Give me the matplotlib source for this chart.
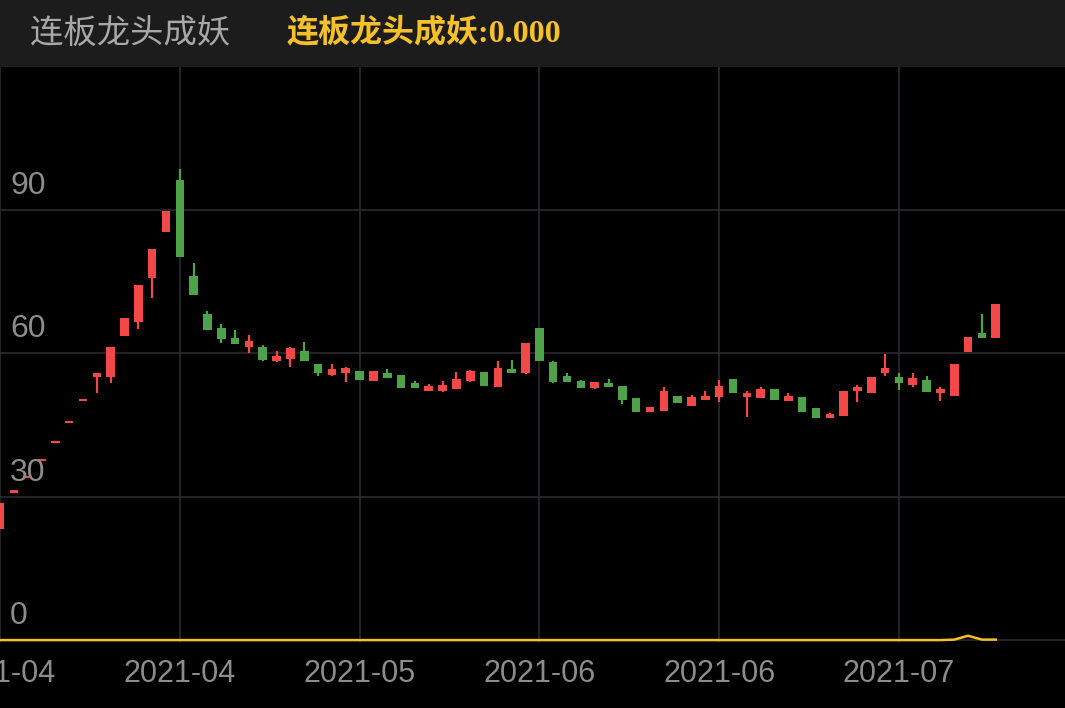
import matplotlib

matplotlib.use("Agg")
import matplotlib.pyplot as plt
import numpy as np

plt.rcParams["font.family"] = ["Noto Sans CJK SC", "DejaVu Sans"]

# OHLC (one entry per trading day)
opens = [23.2, 30.8, 33.9, 37.4, 41.2, 45.4, 50.0, 55.0, 55.0, 63.6,
         66.5, 75.7, 85.3, 96.2, 76.1, 68.2, 65.2, 63.1, 61.3, 61.3,
         58.3, 58.7, 60.4, 57.7, 55.4, 55.8, 56.2, 54.2, 55.9, 55.4,
         53.8, 52.1, 52.1, 52.5, 54.1, 56.0, 53.0, 56.7, 55.8, 65.2,
         58.1, 55.2, 54.1, 52.8, 53.7, 53.1, 50.6, 47.7, 47.9, 51.0,
         48.9, 50.2, 50.8, 54.6, 50.8, 50.6, 52.5, 50.0, 50.8, 48.5,
         46.4, 46.8, 52.1, 51.6, 55.8, 55.0, 53.3, 54.4, 51.6, 51.0,
         60.2, 64.2, 63.1]
closes = [28.6, 31.3, 34.4, 37.9, 41.7, 45.9, 50.5, 55.8, 61.3, 67.3,
          74.2, 81.7, 89.7, 80.1, 72.1, 64.8, 62.9, 61.9, 62.5, 58.5,
          59.4, 61.0, 58.3, 55.8, 56.7, 56.9, 54.4, 56.2, 54.8, 52.7,
          52.8, 53.2, 53.3, 54.5, 56.2, 53.1, 56.9, 55.8, 62.1, 58.3,
          53.9, 53.9, 52.8, 53.9, 53.0, 50.2, 47.7, 48.7, 52.1, 49.5,
          50.8, 51.0, 53.1, 51.6, 51.6, 52.5, 50.2, 51.0, 47.7, 46.4,
          47.3, 52.1, 52.9, 55.0, 56.9, 53.7, 54.8, 51.9, 52.5, 57.7,
          63.3, 63.1, 70.2]
highs = [28.6, 31.3, 34.4, 37.9, 41.7, 45.9, 50.5, 55.8, 61.3, 67.3,
         74.2, 81.7, 89.7, 98.5, 78.8, 68.8, 66.1, 64.8, 63.8, 61.6,
         60.4, 61.3, 62.3, 57.7, 57.7, 57.1, 56.2, 56.2, 56.7, 55.4,
         54.2, 53.5, 54.2, 56.0, 56.4, 56.0, 58.3, 58.5, 62.1, 65.2,
         58.3, 55.8, 54.4, 53.9, 54.6, 53.1, 50.6, 48.7, 52.9, 51.0,
         51.2, 52.0, 54.4, 54.6, 52.1, 52.9, 52.5, 51.6, 50.8, 48.5,
         47.5, 52.1, 53.3, 55.0, 59.8, 55.8, 55.8, 55.2, 52.9, 57.7,
         63.3, 68.2, 70.2]
lows = [23.2, 30.8, 33.9, 37.4, 41.2, 45.4, 50.0, 51.6, 53.7, 63.6,
        65.0, 71.5, 85.3, 80.1, 72.1, 64.8, 62.1, 61.9, 60.0, 58.3,
        58.1, 57.0, 58.3, 55.2, 55.2, 53.9, 54.4, 54.2, 54.8, 52.7,
        52.8, 52.1, 51.9, 52.5, 53.9, 53.1, 53.0, 55.8, 55.6, 58.3,
        53.7, 53.9, 52.8, 52.5, 53.0, 49.3, 47.7, 47.7, 47.9, 49.5,
        48.9, 50.2, 49.8, 51.6, 46.6, 50.6, 50.2, 50.0, 47.7, 46.4,
        46.4, 46.8, 49.8, 51.6, 55.2, 52.3, 53.0, 51.9, 50.0, 51.0,
        60.2, 63.1, 63.1]
# 连板龙头成妖 indicator
signal = [0.0] * 69 + [0.1, 0.9, 0.1, 0.1]

tick_pos = [0, 13, 26, 39, 52, 65]
tick_labels = ["2021-04", "2021-04", "2021-05", "2021-06", "2021-06", "2021-07"]
y_levels = [0, 30, 60, 90]

UP = "#f24848"
DOWN = "#4ea24a"
TEXT = "#8c8c8c"
GRID = "#2b2b30"
LAT = ["Liberation Sans", "DejaVu Sans"]

fig = plt.figure(figsize=(10.65, 7.08), dpi=100, facecolor="black")

# header bar
head = fig.add_axes([0, 1 - 67 / 708, 1, 67 / 708])
head.set_facecolor("#1c1c1c")
head.set_xticks([])
head.set_yticks([])
for s in head.spines.values():
    s.set_visible(False)
head.text(30 / 1065, 0.5, "连板龙头成妖", color="#a8a8a8", fontsize=24,
          va="center", ha="left", transform=head.transAxes)
head.text(287 / 1065, 0.5, "连板龙头成妖:0.000", color="#f5c02a", fontsize=23,
          fontweight="bold", va="center", ha="left", transform=head.transAxes,
          family=["Liberation Serif", "Noto Sans CJK SC"])

ax = fig.add_axes([0, 66 / 708, 1, (642 - 67) / 708])
ax.set_facecolor("black")
for s in ax.spines.values():
    s.set_visible(False)

x = np.arange(len(opens))
o, c, h, l = map(np.asarray, (opens, closes, highs, lows))
colors = np.where(c >= o, UP, DOWN)
ax.vlines(x, l, h, colors=colors, linewidth=1.6, zorder=3)
ax.bar(x, np.maximum(np.abs(c - o), 0.5), bottom=np.minimum(o, c), width=0.62,
       color=colors, zorder=3)
ax.plot(x, signal, color="#f5c02a", linewidth=1.8, zorder=4)

ax.set_xlim(0, 1065 / 13.83)
ax.set_ylim(-0.4, 119.8)
ax.set_yticks(y_levels)
ax.set_xticks(tick_pos)
ax.grid(True, color=GRID, linewidth=1.2, zorder=0)
ax.tick_params(length=0, labelleft=False, labelbottom=False)

for v in y_levels:
    ax.text(10 / 1065, v + 1.8, str(v), color=TEXT, fontsize=23, ha="left",
            va="bottom", transform=ax.get_yaxis_transform(), zorder=5,
            family=LAT)
for p, lab in zip(tick_pos, tick_labels):
    ax.text(p, -4.0, lab, color=TEXT, fontsize=22, ha="center", va="top",
            clip_on=False, family=LAT)

fig.savefig("out.png", dpi=100, facecolor="black")
